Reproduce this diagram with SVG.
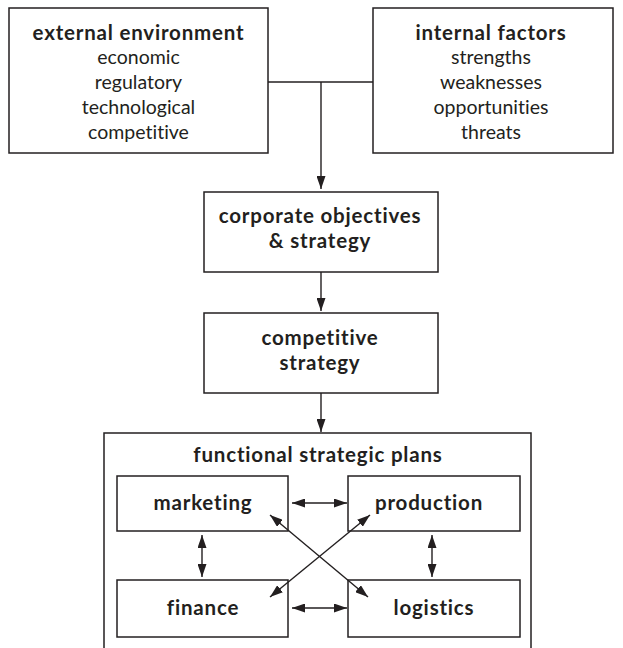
<svg xmlns="http://www.w3.org/2000/svg" width="623" height="648" viewBox="0 0 623 648">
<defs>
<marker id="ah" viewBox="0 0 13 9" refX="13" refY="4.5" markerWidth="13" markerHeight="9" markerUnits="userSpaceOnUse" orient="auto-start-reverse">
<path d="M0,0 L13,4.5 L0,9 Z" fill="#231f20"/>
</marker>
<style>
rect{fill:#fff;stroke:#231f20;stroke-width:1.5}
text{font-family:Lato,"Open Sans","Liberation Sans",sans-serif;fill:#231f20;text-anchor:middle;font-size:19.5px;font-variant-ligatures:none}
.b{font-weight:bold;font-size:20.5px;letter-spacing:0.8px}
.c line,.c path{stroke:#231f20;stroke-width:1.4;fill:none}
</style>
</defs>
<rect x="0" y="0" width="623" height="648" style="stroke:none"/>
<g id="external">
<rect x="9" y="8" width="259" height="145"/>
<text x="138.5" y="40" class="b">external environment</text>
<text x="138.5" y="64">economic</text>
<text x="138.5" y="89">regulatory</text>
<text x="138.5" y="114">technological</text>
<text x="138.5" y="139">competitive</text>
</g>
<g id="internal">
<rect x="373" y="8" width="240" height="145"/>
<text x="491" y="40" class="b">internal factors</text>
<text x="491" y="64">strengths</text>
<text x="491" y="89">weaknesses</text>
<text x="491" y="114">opportunities</text>
<text x="491" y="139">threats</text>
</g>
<g id="corporate">
<rect x="204" y="192" width="234" height="80"/>
<text x="320" y="223" class="b">corporate objectives</text>
<text x="320" y="248" class="b">&amp; strategy</text>
</g>
<g id="competitive">
<rect x="204" y="313" width="234" height="80"/>
<text x="320" y="345" class="b">competitive</text>
<text x="320" y="370" class="b">strategy</text>
</g>
<g id="functional">
<rect x="104" y="433" width="427" height="230"/>
<text x="318" y="462" class="b">functional strategic plans</text>
</g>
<g id="marketing">
<rect x="117" y="476" width="171" height="55"/>
<text x="203" y="510" class="b">marketing</text>
</g>
<g id="production">
<rect x="348" y="476" width="172" height="55"/>
<text x="429" y="510" class="b">production</text>
</g>
<g id="finance">
<rect x="117" y="580" width="171" height="57"/>
<text x="203" y="615" class="b">finance</text>
</g>
<g id="logistics">
<rect x="348" y="580" width="172" height="57"/>
<text x="434" y="615" class="b">logistics</text>
</g>
<g class="c" id="connectors">
<path d="M268,82 H373"/>
<line x1="321" y1="82" x2="321" y2="189" marker-end="url(#ah)"/>
<line x1="321" y1="272" x2="321" y2="311" marker-end="url(#ah)"/>
<line x1="321" y1="393" x2="321" y2="432" marker-end="url(#ah)"/>
<line x1="292" y1="503" x2="347" y2="503" marker-start="url(#ah)" marker-end="url(#ah)"/>
<line x1="292" y1="608" x2="347" y2="608" marker-start="url(#ah)" marker-end="url(#ah)"/>
<line x1="202" y1="535" x2="202" y2="577" marker-start="url(#ah)" marker-end="url(#ah)"/>
<line x1="432" y1="535" x2="432" y2="577" marker-start="url(#ah)" marker-end="url(#ah)"/>
<line x1="270" y1="515" x2="368" y2="597" marker-start="url(#ah)" marker-end="url(#ah)"/>
<line x1="370" y1="515" x2="270" y2="597" marker-start="url(#ah)" marker-end="url(#ah)"/>
</g>
</svg>
